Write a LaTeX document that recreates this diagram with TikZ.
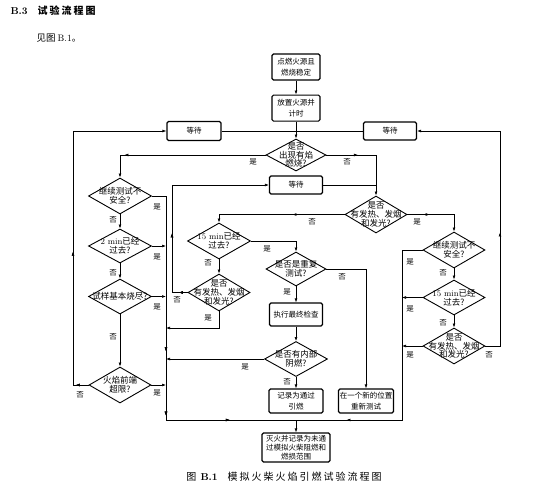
\documentclass[tikz,border=0pt]{standalone}
\usepackage{fontspec}
\newfontfamily\cjk{Noto Sans CJK SC}
\usetikzlibrary{positioning, arrows.meta, shapes.geometric, decorations.markings}

\begin{document}
\begin{tikzpicture}[
    x=1pt, y=-1pt,
    box/.style={draw, rectangle, rounded corners=1.5pt, line width=1.1pt, minimum width=48pt, minimum height=26pt, align=center, inner sep=1pt, font=\cjk\fontsize{7.5}{10.5}\selectfont},
    dia/.style={draw, diamond, line width=0.9pt, inner sep=0pt, minimum width=62pt, minimum height=36pt},
    dtxt/.style={align=center, inner sep=0pt, font=\cjk\fontsize{8.5}{8.7}\selectfont},
    lbl/.style={font=\cjk\fontsize{7.5}{8}\selectfont, inner sep=0pt},
    line/.style={line width=0.6pt},
    arrow/.style={line, -{Latex[length=4pt, width=2.8pt]}},
    mid/.style={postaction={decorate}, decoration={markings, mark=at position #1 with {\arrow{Latex[length=4pt, width=2.8pt]}}}}
]
\useasboundingbox (0,0) rectangle (554,490);

\node[anchor=west, font=\cjk\fontsize{10}{12}\selectfont\bfseries\addfontfeature{LetterSpace=20}] (sec) at (7,11) {{\rmfamily\bfseries B.3}\quad 试验流程图};
\node[anchor=west, font=\cjk\fontsize{9.5}{11}\selectfont] (see) at (33,38) {见图 {\rmfamily B.1}。};

\node[box] (fire) at (296,67) {点燃火源且\\燃烧稳定};
\node[box, below=14pt of fire] (place) {放置火源并\\计时};
\node[box, minimum width=54pt, minimum height=19pt] (wait_l) at (194,131) {等待};
\node[box, minimum width=53pt, minimum height=18pt] (wait_r) at (390,131) {等待};
\node[box, minimum width=53pt, minimum height=18pt] (wait_m) at (296,185) {等待};
\coordinate (top_j) at (296,131);

\node[dia, minimum width=60pt, minimum height=32pt] (q_flame) at (296,155) {};
\node[dtxt] (q_flame_t) at (q_flame) {是否\\出现有焰\\燃烧?};
\node[dia, minimum height=37pt] (q_heat) at (376,214.5) {};
\node[dtxt] (q_heat_t) at (q_heat) {是否\\有发热、发烟\\和发光?};

\node[dia, minimum width=63pt] (q_unsafe_l) at (120,196) {};
\node[dtxt] (q_unsafe_l_t) at (q_unsafe_l) {继续测试不\\安全?};
\node[dia, minimum width=63pt, minimum height=34pt] (q_2min) at (120,246) {};
\node[dtxt] (q_2min_t) at (q_2min) {{\rmfamily 2 min}已经\\过去?};
\node[dia, minimum width=63pt, minimum height=35pt] (q_burnt) at (120,296.5) {};
\node[dtxt] (q_burnt_t) at (q_burnt) {试样基本烧尽?};
\node[dia] (q_front) at (120,385) {};
\node[dtxt] (q_front_t) at (q_front) {火焰前端\\超限?};

\node[dia, minimum width=63pt] (q_15min_m) at (219,241) {};
\node[dtxt] (q_15min_m_t) at (q_15min_m) {{\rmfamily 15 min}已经\\过去?};
\node[dia, minimum height=37pt] (q_heat_m) at (219,292.5) {};
\node[dtxt] (q_heat_m_t) at (q_heat_m) {是否\\有发热、发烟\\和发光?};

\node[dia, minimum width=60pt, minimum height=34pt] (q_repeat) at (296,269) {};
\node[dtxt] (q_repeat_t) at (q_repeat) {是否是重复\\测试?};
\node[box, minimum width=53pt, minimum height=23pt] (check) at (296,314.5) {执行最终检查};
\node[dia, minimum width=63pt, minimum height=35pt] (q_smoulder) at (296,359) {};
\node[dtxt] (q_smoulder_t) at (q_smoulder) {是否有内部\\阴燃?};
\node[box, minimum width=54pt, minimum height=24pt] (pass) at (296,401) {记录为通过\\引燃};
\node[box, minimum width=55pt, minimum height=24pt] (retest) at (366,401) {在一个新的位置\\重新测试};
\node[box, minimum width=68pt, minimum height=29pt, font=\cjk\fontsize{7.5}{9}\selectfont] (fail) at (296,447.5) {灭火并记录为未通\\过模拟火柴阻燃和\\燃损范围};

\node[dia] (q_unsafe_r) at (454,250) {};
\node[dtxt] (q_unsafe_r_t) at (q_unsafe_r) {继续测试不\\安全?};
\node[dia, minimum height=35pt] (q_15min_r) at (454,297.5) {};
\node[dtxt] (q_15min_r_t) at (q_15min_r) {{\rmfamily 15 min}已经\\过去?};
\node[dia] (q_heat_r) at (454,346) {};
\node[dtxt] (q_heat_r_t) at (q_heat_r) {是否\\有发热、发烟\\和发光?};

\coordinate (loop_l) at (73,131);
\coordinate (loop_m) at (172,185);
\coordinate (loop_r) at (500,131);
\coordinate (ret_j) at (166,328);
\coordinate (trunk_l) at (166,420);
\coordinate (trunk_r) at (402,420);
\coordinate (bot_j) at (296,420);

\draw[arrow] (fire) -- (place);
\draw[arrow] (place) -- (q_flame);
\draw[line] (wait_l) -- (top_j);
\draw[line] (wait_r) -- (top_j);
\draw[arrow, mid=0.84] (q_flame.west) -| (q_unsafe_l.north);
\draw[arrow, mid=0.35] (q_flame.east) -| (q_heat.north);
\draw[line] (wait_m) -- (wait_m -| q_heat.north);
\draw[arrow, mid=0.39] (q_heat.west) -| (q_15min_m.north);
\draw[arrow, mid=0.35] (q_heat.east) -| (q_unsafe_r.north);

\draw[arrow] (q_unsafe_l) -- (q_2min);
\draw[arrow] (q_2min) -- (q_burnt);
\draw[arrow] (q_burnt) -- (q_front);
\draw[line, mid=0.46, mid=0.635, mid=0.82] (q_unsafe_l.east) -| (trunk_l) -- (bot_j);
\draw[arrow] (q_2min.east) -- (q_2min.east -| trunk_l);
\draw[arrow] (q_burnt.east) -- (q_burnt.east -| trunk_l);
\draw[arrow] (q_front.east) -- (q_front.east -| trunk_l);
\draw[arrow, mid=0.035, mid=0.41] (q_front.west) -| (loop_l) -- (wait_l);

\draw[arrow] (q_15min_m) -- (q_heat_m);
\draw[arrow] (q_15min_m.east) -| (q_repeat.north);
\draw[arrow, mid=0.04, mid=0.34] (q_heat_m.west) -| (loop_m) -- (wait_m);
\draw[arrow] (q_heat_m.south) |- (ret_j);
\draw[arrow] (q_repeat) -- (check);
\draw[arrow] (q_repeat.east) -| (retest.north);
\draw[arrow] (check) -- (q_smoulder);
\draw[arrow] (q_smoulder) -- (pass);
\draw[arrow] (q_smoulder.west) -- (q_smoulder.west -| trunk_l);

\draw[arrow] (q_unsafe_r) -- (q_15min_r);
\draw[arrow] (q_15min_r) -- (q_heat_r);
\draw[line, mid=0.83] (q_unsafe_r.west) -| (trunk_r) -- (bot_j);
\draw[arrow] (q_15min_r.west) -- (q_15min_r.west -| trunk_r);
\draw[arrow] (q_heat_r.west) -- (q_heat_r.west -| trunk_r);
\draw[arrow, mid=0.41] (q_heat_r.east) -| (loop_r) -- (wait_r);
\draw[arrow] (bot_j) -- (fail);

\node[lbl] (l_flame_y) at (253,162) {是};
\node[lbl] (l_flame_n) at (347,162) {否};
\node[lbl] (l_heat_n) at (312,222) {否};
\node[lbl] (l_heat_y) at (417,222) {是};
\node[lbl] (l_unsafe_l_y) at (157,207) {是};
\node[lbl] (l_unsafe_l_n) at (113,220) {否};
\node[lbl] (l_2min_y) at (157,257) {是};
\node[lbl] (l_2min_n) at (113,273) {否};
\node[lbl] (l_burnt_y) at (157,307) {是};
\node[lbl] (l_burnt_n) at (113,337) {否};
\node[lbl] (l_front_y) at (157,393) {是};
\node[lbl] (l_front_n) at (80,395) {否};
\node[lbl] (l_15min_m_y) at (267,249) {是};
\node[lbl] (l_15min_m_n) at (208,263) {否};
\node[lbl] (l_heat_m_n) at (177,300) {否};
\node[lbl] (l_heat_m_y) at (208,318) {是};
\node[lbl] (l_repeat_n) at (342,277) {否};
\node[lbl] (l_repeat_y) at (287,292) {是};
\node[lbl] (l_smoulder_y) at (245,367) {是};
\node[lbl] (l_smoulder_n) at (287,382) {否};
\node[lbl] (l_unsafe_r_y) at (410,262) {是};
\node[lbl] (l_unsafe_r_n) at (443,273) {否};
\node[lbl] (l_15min_r_y) at (410,309) {是};
\node[lbl] (l_15min_r_n) at (443,323) {否};
\node[lbl] (l_heat_r_y) at (410,355) {是};
\node[lbl] (l_heat_r_n) at (489,355) {否};

\node[font=\cjk\fontsize{10}{12}\selectfont\addfontfeature{LetterSpace=20}] (cap) at (284,477) {图 {\rmfamily\bfseries B.1}\quad 模拟火柴火焰引燃试验流程图};
\end{tikzpicture}
\end{document}
